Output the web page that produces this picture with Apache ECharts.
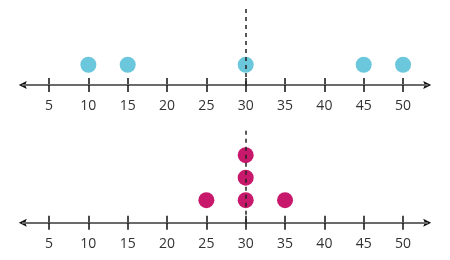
<!DOCTYPE html>
<html>
<head>
<meta charset="utf-8">
<script src="https://cdn.jsdelivr.net/npm/echarts@6/dist/echarts.min.js"></script>
<style>html,body{margin:0;padding:0;background:#fff}#c{width:450px;height:260px}</style>
</head>
<body>
<div id="c"></div>
<script>
// Data
const tickValues = [5, 10, 15, 20, 25, 30, 35, 40, 45, 50];
const topValues = [10, 15, 30, 45, 50];
const bottomValues = [25, 30, 30, 30, 35];
const referenceValue = 30;

const axisMin = 1.665, axisMax = 53.07;
const topColor = '#6BC7DB';
const bottomColor = '#C8186B';
const arrowPath = 'path://M5,0 L10,10 L5,8 L0,10 Z';

function stack(vals) {
  const seen = {};
  return vals.map(v => { seen[v] = (seen[v] || 0) + 1; return [v, seen[v]]; });
}

function xAxesFor(gridIndex) {
  return [
    { // black line with arrows + inward ticks
      type: 'value', gridIndex, position: 'bottom', min: axisMin, max: axisMax, z: 1,
      axisLine: { show: true, onZero: false, lineStyle: { color: '#111', width: 2 }, symbol: [arrowPath, arrowPath], symbolSize: [8, 9] },
      axisTick: { show: true, inside: true, length: 7, customValues: tickValues, lineStyle: { color: '#111', width: 1.5 } },
      axisLabel: { show: false }, splitLine: { show: false }
    },
    { // gray line + outward ticks + labels
      type: 'value', gridIndex, position: 'bottom', min: axisMin, max: axisMax, z: 2,
      axisLine: { show: true, onZero: false, lineStyle: { color: '#6b6b6b', width: 2 } },
      axisTick: { show: true, length: 7, customValues: tickValues, lineStyle: { color: '#111', width: 1.5 } },
      axisLabel: { show: true, customValues: tickValues, margin: 14, fontSize: 14, fontFamily: 'Open Sans', color: '#333' },
      splitLine: { show: false }
    }
  ];
}

const dashed = {
  silent: true, symbol: 'none', label: { show: false },
  lineStyle: { color: '#222', width: 1.5, type: [4, 4] },
  data: [{ xAxis: referenceValue }]
};

const chart = echarts.init(document.getElementById('c'), null, { renderer: 'canvas' });
chart.setOption({
  animation: false,
  backgroundColor: '#fff',
  grid: [
    { left: 22.8, right: 22.8, top: 8, bottom: 175 },
    { left: 22.8, right: 22.8, top: 130, bottom: 37.3 }
  ],
  xAxis: [...xAxesFor(0), ...xAxesFor(1)],
  yAxis: [
    { type: 'value', gridIndex: 0, min: 0, max: 3.8, show: false },
    { type: 'value', gridIndex: 1, min: 0, max: 4.12, show: false }
  ],
  series: [
    { type: 'scatter', xAxisIndex: 1, yAxisIndex: 0, data: stack(topValues), symbolSize: 16,
      itemStyle: { color: topColor, opacity: 1 }, markLine: dashed },
    { type: 'scatter', xAxisIndex: 3, yAxisIndex: 1, data: stack(bottomValues), symbolSize: 16,
      itemStyle: { color: bottomColor, opacity: 1 }, markLine: dashed }
  ]
});
</script>
</body>
</html>
